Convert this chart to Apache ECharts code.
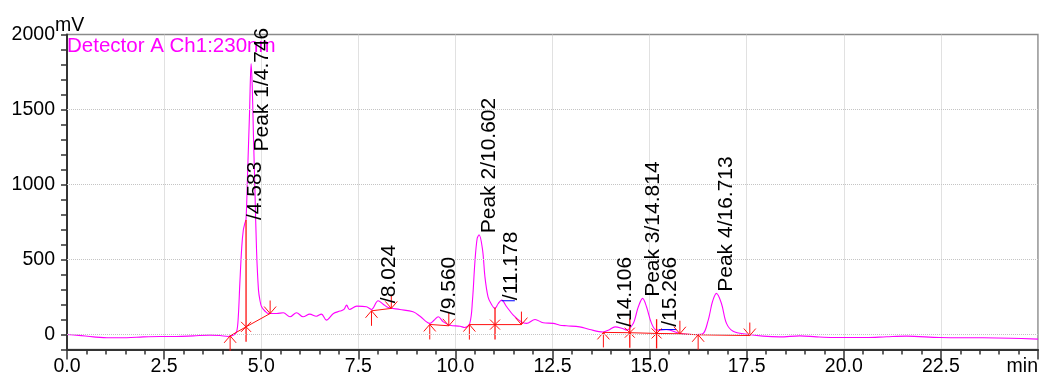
<!DOCTYPE html>
<html>
<head>
<meta charset="utf-8">
<script src="https://cdn.jsdelivr.net/npm/echarts@6/dist/echarts.min.js"></script>
<style>
html,body{margin:0;padding:0;background:#fff;}
#main{width:1042px;height:383px;}
</style>
</head>
<body>
<div id="main"></div>
<script>
// ---- Data ----
const seriesName = 'Detector A Ch1:230nm';
const traceTime = [0.00,0.30,0.68,1.10,1.54,1.96,2.39,2.82,3.25,3.68,3.94,4.15,4.22,4.30,4.37,4.41,4.45,4.50,4.54,4.58,4.61,4.65,4.70,4.74,4.77,4.80,4.84,4.88,4.93,4.97,5.01,5.10,5.18,5.23,5.40,5.57,5.74,5.91,6.08,6.25,6.42,6.55,6.68,6.86,7.03,7.13,7.20,7.27,7.46,7.71,7.84,8.01,8.14,8.27,8.57,8.91,9.09,9.34,9.45,9.56,9.69,9.86,10.12,10.24,10.37,10.44,10.50,10.56,10.61,10.70,10.76,10.84,10.92,11.02,11.10,11.19,11.32,11.49,11.70,11.83,12.05,12.26,12.52,12.69,12.86,13.20,13.46,13.80,13.95,14.11,14.30,14.41,14.58,14.65,14.71,14.82,14.92,15.05,15.18,15.43,15.78,16.21,16.38,16.51,16.55,16.62,16.72,16.85,16.98,17.15,17.50,17.92,18.35,18.87,19.30,19.72,20.58,21.10,21.61,22.47,23.58,24.30,25.00];
const traceMv   = [0,-6,-16,-22,-22,-16,-13,-13,-9,-4,-7,-13,-9,-2,20,118,341,586,697,742,770,1080,1480,1807,1650,1330,950,563,296,225,185,155,140,140,140,145,118,145,118,136,122,136,96,140,156,167,196,167,189,185,167,225,202,180,167,151,122,74,95,118,84,62,55,47,74,229,475,640,664,563,385,251,205,174,205,229,185,129,84,74,100,78,74,62,58,51,33,17,30,51,40,29,74,130,185,241,185,74,29,33,7,0,7,96,140,220,274,207,74,22,2,-11,-16,-9,-16,-20,-20,-15,-11,-20,-22,-25,-31];

// Peak labels (retention-time text, label start level in mV)
const peakLabels = ['/4.583','Peak 1/4.746','/8.024','/9.560','Peak 2/10.602','/11.178','/14.106','Peak 3/14.814','/15.266','Peak 4/16.713'];
const peakTimes  = [4.583,4.746,8.024,9.560,10.602,11.178,14.106,14.814,15.266,16.713];
const labelLevel = [763,1220,209,129,675,229,51,251,51,285];

// Integration marks
const startTimes  = [4.20,7.84,9.34,10.36,13.81,16.25];
const startLevels = [-9,158,67,66,14,-2];
const endTimes    = [5.23,8.35,9.83,11.70,15.78,17.58];
const endLevels   = [140,174,58,66,5,-7];
const dropTimes   = [4.61,11.02,14.49,15.18];
const dropLevels  = [51,66,12,7];
const dropTops    = [763,180,107,102];
const baseTimes   = [[4.20,4.61,5.23],[7.84,8.35],[9.34,9.83],[10.36,11.02,11.70],[13.81,14.49,15.18,15.78,16.25,17.58]];
const baseLevels  = [[-9,51,140],[158,174],[67,58],[66,66,66],[14,12,7,5,-2,-7]];
const blueTimes   = [[11.19,11.53],[15.25,15.69]];
const blueLevels  = [[225,225],[33,33]];

// Axis ticks
const xTickLabels = ['0.0','2.5','5.0','7.5','10.0','12.5','15.0','17.5','20.0','22.5','min'];
const yTickLabels = ['0','500','1000','1500','2000'];

// ---- Build ----
const FONT = '"Liberation Sans", Arial, Helvetica, sans-serif';
const RED = '#ff1010';
const trace = traceTime.map((t,i)=>[t, traceMv[i]]);
const marks = [];
startTimes.forEach((t,i)=>marks.push({k:'s', t, v:startLevels[i]}));
endTimes.forEach((t,i)=>marks.push({k:'e', t, v:endLevels[i]}));
dropTimes.forEach((t,i)=>marks.push({k:'d', t, v:dropLevels[i], top:dropTops[i]}));

const chart = echarts.init(document.getElementById('main'), null, {renderer:'canvas'});
const axisColor = '#333';
const gridColor = '#c4c4c4';

chart.setOption({
  animation:false,
  backgroundColor:'#fff',
  textStyle:{fontFamily:FONT},
  title:{text:'mV', left:55, top:16, padding:0,
    textStyle:{fontSize:19.5, fontWeight:'normal', color:'#000', fontFamily:FONT}},
  legend:{data:[seriesName], left:62, top:36, padding:0, icon:'none', itemWidth:0, itemGap:0,
    selectedMode:false, textStyle:{color:'#ff00ff', fontSize:20.5, fontFamily:FONT}},
  grid:{left:67, top:34.5, width:971, height:315, show:true, borderColor:'#8a8a8a', borderWidth:1.5, containLabel:false},
  xAxis:{type:'value', min:0, max:25, interval:2.5,
    axisLine:{show:true, onZero:false, lineStyle:{color:axisColor, width:2}},
    axisTick:{show:true, length:10, lineStyle:{color:axisColor, width:1.5}},
    minorTick:{show:true, splitNumber:5, length:5, lineStyle:{color:axisColor, width:1.5}},
    axisLabel:{fontSize:19.5, color:'#000', margin:7, fontFamily:FONT, alignMaxLabel:'right',
      formatter:(v)=>xTickLabels[Math.round(v/2.5)]},
    splitLine:{show:true, lineStyle:{type:'dotted', color:gridColor, width:1}}
  },
  yAxis:{type:'value', min:-100, max:2000, interval:100,
    axisLine:{show:true, onZero:false, lineStyle:{color:axisColor, width:2}},
    axisTick:{show:true, length:6, lineStyle:{color:axisColor, width:1.5}},
    axisLabel:{fontSize:19.5, color:'#000', margin:12, fontFamily:FONT,
      formatter:(v)=> (v>=0 && v%500===0) ? yTickLabels[v/500] : ''},
    splitLine:{show:false}
  },
  series:[
    {name:seriesName, type:'line', data:trace, showSymbol:false, smooth:0.35,
      lineStyle:{color:'#ff00ff', width:1.1}, itemStyle:{color:'#ff00ff'}, z:2,
      markLine:{silent:true, symbol:'none', label:{show:false},
        lineStyle:{type:'dotted', color:gridColor, width:1},
        data:[{yAxis:0},{yAxis:500},{yAxis:1000},{yAxis:1500}]}
    },
    {type:'custom', silent:true, z:3, data:baseTimes.map((ts,i)=>[ts[0], baseLevels[i][0]]),
      renderItem:(params, api)=>{
        const i = params.dataIndex;
        const pts = baseTimes[i].map((t,j)=>api.coord([t, baseLevels[i][j]]));
        return {type:'polyline', shape:{points:pts}, style:{stroke:RED, lineWidth:1, fill:null}};
      }},
    {type:'custom', silent:true, z:3, data:blueTimes.map((ts,i)=>[ts[0], blueLevels[i][0]]),
      renderItem:(params, api)=>{
        const i = params.dataIndex;
        const pts = blueTimes[i].map((t,j)=>api.coord([t, blueLevels[i][j]]));
        return {type:'polyline', shape:{points:pts}, style:{stroke:'#0000ff', lineWidth:1, fill:null}};
      }},
    {type:'custom', silent:true, z:4, data:marks.map(m=>[m.t, m.v]),
      renderItem:(params, api)=>{
        const m = marks[params.dataIndex];
        const p = api.coord([m.t, m.v]);
        const x = p[0], y = p[1];
        const st = {stroke:RED, lineWidth:1, fill:null};
        let children = [];
        if (m.k === 's') {
          children = [
            {type:'polyline', shape:{points:[[x-6,y+7],[x,y],[x+6,y+7]]}, style:st},
            {type:'line', shape:{x1:x, y1:y, x2:x, y2:y+15}, style:st}
          ];
        } else if (m.k === 'e') {
          children = [
            {type:'polyline', shape:{points:[[x-6,y-7],[x,y],[x+6,y-7]]}, style:st},
            {type:'line', shape:{x1:x, y1:y-13, x2:x, y2:y}, style:st}
          ];
        } else {
          const pt = api.coord([m.t, m.top]);
          children = [
            {type:'line', shape:{x1:x-5, y1:y-5, x2:x+5, y2:y+5}, style:st},
            {type:'line', shape:{x1:x-5, y1:y+5, x2:x+5, y2:y-5}, style:st},
            {type:'line', shape:{x1:x, y1:pt[1], x2:x, y2:y+15}, style:{stroke:RED, lineWidth:1.3}}
          ];
        }
        return {type:'group', children};
      }},
    {type:'custom', silent:true, z:5, clip:false, data:peakTimes.map((t,i)=>[t, labelLevel[i]]),
      renderItem:(params, api)=>{
        const i = params.dataIndex;
        const p = api.coord([peakTimes[i], labelLevel[i]]);
        return {type:'text', x:p[0], y:p[1], rotation:Math.PI/2,
          style:{text:peakLabels[i], fill:'#000', fontSize:21, fontFamily:FONT, align:'left', verticalAlign:'top'}};
      }}
  ]
});
</script>
</body>
</html>
